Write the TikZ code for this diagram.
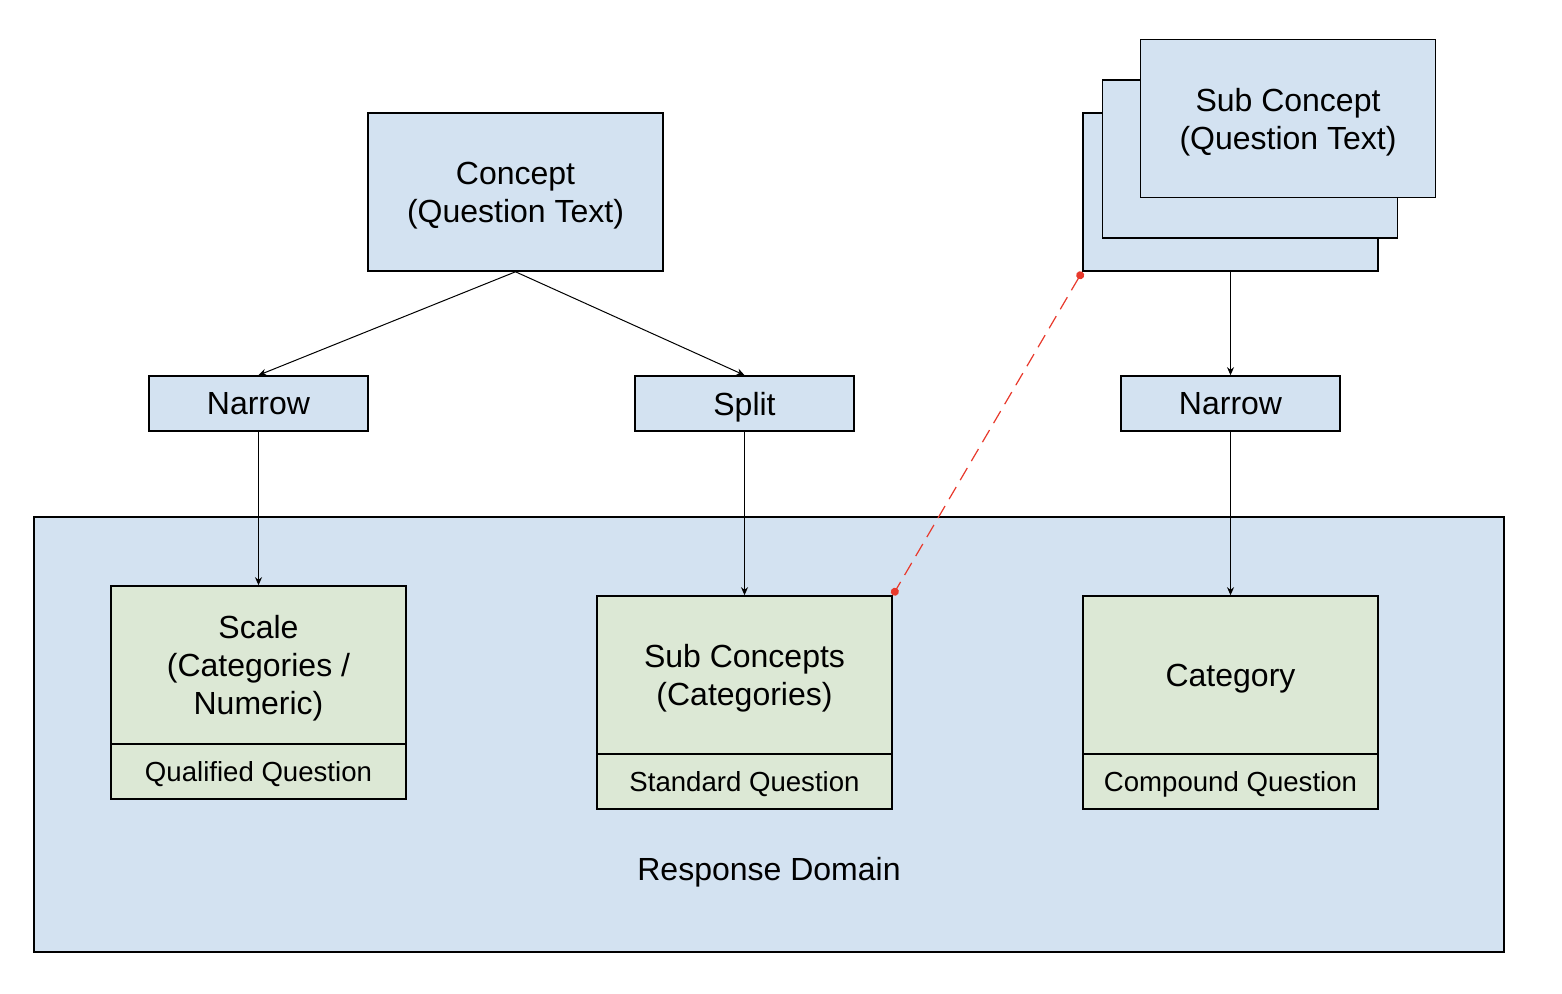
\documentclass[tikz,border=0pt]{standalone}
\usepackage{fontspec}
\setmainfont{Liberation Sans}
\usetikzlibrary{arrows.meta}
\definecolor{boxblue}{HTML}{D3E2F1}
\definecolor{boxgreen}{HTML}{DCE8D5}
\definecolor{linkred}{HTML}{E8392C}

\begin{document}
\begin{tikzpicture}[
x=0.5pt, y=-0.5pt,
every node/.style={
draw,
line width=0.8pt,
align=center,
inner sep=0pt,
text depth=0pt,
font=\fontsize{16}{19}\selectfont
},
bluebox/.style={fill=boxblue, minimum width=147.5pt, minimum height=79pt},
tagbox/.style={fill=boxblue, minimum width=109.5pt, minimum height=27.5pt},
greenbox/.style={fill=boxgreen, minimum width=147.5pt, minimum height=79pt},
footbox/.style={fill=boxgreen, minimum width=147.5pt, minimum height=27.5pt,
font=\fontsize{13.8}{16}\selectfont},
arr/.style={-{Stealth[length=4pt,width=3.5pt]}, line width=0.5pt}
]

\fill[white] (0,0) rectangle (1562,994);
\useasboundingbox (0,0) rectangle (1562,994);

% response domain
\node[fill=boxblue, minimum width=735pt, minimum height=217.5pt] (RD) at (769,734.5) {};
\node[draw=none] (RDlabel) at (769,869) {Response Domain};

% top row
\node[bluebox] (C) at (515.5,192)
{Concept\\(Question Text)};

\node[bluebox] (SCback) at (1230.5,192) {};
\node[bluebox] (SCmid) at (1250,159) {};
\node[bluebox] (SCfront) at (1288,118.5)
{Sub Concept\\(Question Text)};

% middle row
\node[tagbox] (N1) at (258.5,403.5) {Narrow};
\node[tagbox] (S) at (744.5,403.5) {Split};
\node[tagbox] (N2) at (1230.5,403.5) {Narrow};

% bottom row
\node[greenbox] (Q1) at (258.5,665)
{Scale\\(Categories /\\Numeric)};
\node[footbox] (Q1f) at (258.5,771.5) {Qualified Question};

\node[greenbox] (Q2) at (744.5,675)
{Sub Concepts\\(Categories)};
\node[footbox] (Q2f) at (744.5,781.5) {Standard Question};

\node[greenbox] (Q3) at (1230.5,675)
{Category};
\node[footbox] (Q3f) at (1230.5,781.5) {Compound Question};

\draw[arr] (C.south) -- (N1.north);
\draw[arr] (C.south) -- (S.north);
\draw[arr] (SCback.south) -- (N2.north);
\draw[arr] (N1.south) -- (Q1.north);
\draw[arr] (S.south) -- (Q2.north);
\draw[arr] (N2.south) -- (Q3.north);

\draw[linkred, line width=0.6pt, dash pattern=on 7pt off 4pt,
{Circle[length=4pt]}-{Circle[length=4pt]}]
(SCback.south west) -- (Q2.north east);

\end{tikzpicture}
\end{document}
